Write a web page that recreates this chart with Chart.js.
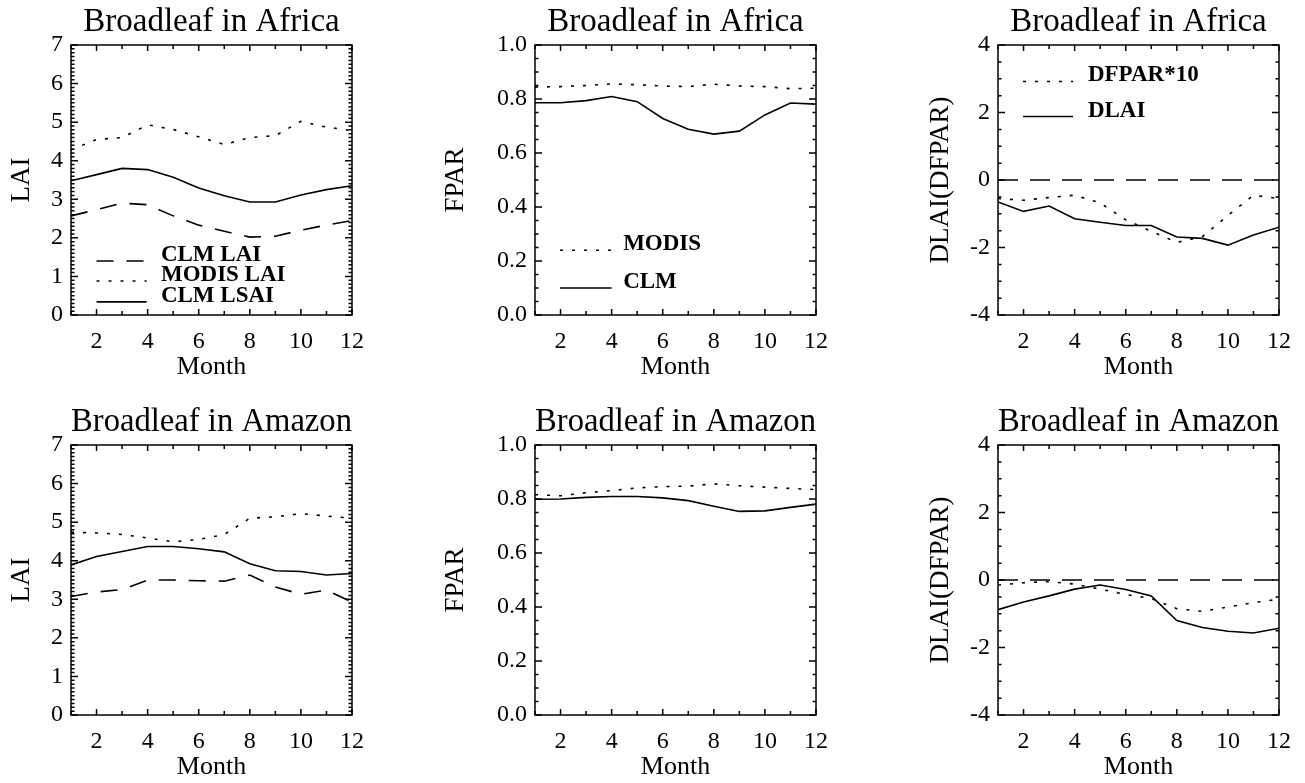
<!DOCTYPE html>
<html>
<head>
<meta charset="utf-8">
<script src="https://cdn.jsdelivr.net/npm/chart.js@4.4.0/dist/chart.umd.min.js"></script>
<style>
  body { margin: 0; background: #fff; overflow: hidden; }
  .panel { position: absolute; width: 435px; height: 383px; }
</style>
</head>
<body>
<div class="panel" style="left:0px;top:0px"><canvas id="c1" width="435" height="383"></canvas></div>
<div class="panel" style="left:435px;top:0px"><canvas id="c2" width="435" height="383"></canvas></div>
<div class="panel" style="left:870px;top:0px"><canvas id="c3" width="435" height="383"></canvas></div>
<div class="panel" style="left:0px;top:400px"><canvas id="c4" width="435" height="383"></canvas></div>
<div class="panel" style="left:435px;top:400px"><canvas id="c5" width="435" height="383"></canvas></div>
<div class="panel" style="left:870px;top:400px"><canvas id="c6" width="435" height="383"></canvas></div>
<script>
const months = [1, 2, 3, 4, 5, 6, 7, 8, 9, 10, 11, 12];
const xTickLabels = [2, 4, 6, 8, 10, 12];
const laiTicks = [0, 1, 2, 3, 4, 5, 6, 7];
const fparTicks = [0, 0.2, 0.4, 0.6, 0.8, 1.0];
const dlaiTicks = [-4, -2, 0, 2, 4];

// Broadleaf in Africa
const africaClmLai   = [2.57, 2.73, 2.90, 2.86, 2.57, 2.33, 2.17, 2.02, 2.04, 2.20, 2.33, 2.45];
const africaModisLai = [4.28, 4.55, 4.60, 4.93, 4.81, 4.62, 4.42, 4.60, 4.65, 5.02, 4.87, 4.78];
const africaClmLsai  = [3.48, 3.64, 3.80, 3.77, 3.57, 3.29, 3.09, 2.93, 2.93, 3.11, 3.25, 3.35];
const africaModisFpar = [0.844, 0.846, 0.850, 0.856, 0.853, 0.848, 0.846, 0.855, 0.848, 0.846, 0.838, 0.840];
const africaClmFpar   = [0.786, 0.786, 0.794, 0.809, 0.790, 0.728, 0.688, 0.670, 0.681, 0.741, 0.785, 0.781];
const africaDfpar10 = [-0.55, -0.60, -0.52, -0.45, -0.68, -1.18, -1.52, -1.85, -1.68, -1.05, -0.45, -0.55];
const africaDlai    = [-0.65, -0.93, -0.77, -1.15, -1.25, -1.35, -1.35, -1.69, -1.73, -1.93, -1.63, -1.40];

// Broadleaf in Amazon
const amazonClmLai   = [3.07, 3.19, 3.25, 3.50, 3.50, 3.48, 3.47, 3.63, 3.32, 3.13, 3.24, 2.93];
const amazonModisLai = [4.74, 4.72, 4.68, 4.59, 4.49, 4.55, 4.68, 5.10, 5.14, 5.22, 5.16, 5.10];
const amazonClmLsai  = [3.89, 4.11, 4.24, 4.37, 4.37, 4.31, 4.23, 3.92, 3.74, 3.72, 3.63, 3.67];
const amazonModisFpar = [0.816, 0.812, 0.823, 0.831, 0.841, 0.846, 0.848, 0.856, 0.849, 0.844, 0.839, 0.835];
const amazonClmFpar   = [0.799, 0.800, 0.806, 0.809, 0.809, 0.804, 0.794, 0.773, 0.754, 0.756, 0.769, 0.781];
const amazonDfpar10 = [-0.15, -0.08, -0.05, -0.12, -0.27, -0.43, -0.55, -0.85, -0.93, -0.80, -0.67, -0.57];
const amazonDlai    = [-0.88, -0.65, -0.47, -0.27, -0.15, -0.28, -0.47, -1.20, -1.41, -1.52, -1.57, -1.43];

const FONT = "'Liberation Serif', 'Times New Roman', serif";
const DASHED = [17, 13];
const DOTTED = [3, 9];
const SOLID = [];

// draws the IDL style box with inward ticks, the zero line and the legend
const frameTicks = {
  id: 'frameTicks',
  afterDatasetsDraw(chart, args, opts) {
    const { ctx, chartArea: a, scales: { x, y } } = chart;
    ctx.save();
    ctx.strokeStyle = '#000';
    ctx.lineWidth = 1.5;
    ctx.setLineDash([]);
    ctx.strokeRect(a.left, a.top, a.right - a.left, a.bottom - a.top);

    ctx.beginPath();
    months.forEach(m => {
      const px = x.getPixelForValue(m);
      const len = m % 2 === 0 ? 6 : 4;
      ctx.moveTo(px, a.bottom); ctx.lineTo(px, a.bottom - len);
      ctx.moveTo(px, a.top); ctx.lineTo(px, a.top + len);
    });
    const n = Math.round((y.max - y.min) / opts.minorY);
    for (let i = 0; i <= n; i++) {
      const v = y.min + i * opts.minorY;
      const major = opts.majorY.some(t => Math.abs(t - v) < 1e-6);
      const len = major ? 7 : 3.5;
      const py = y.getPixelForValue(v);
      ctx.moveTo(a.left, py); ctx.lineTo(a.left + len, py);
      ctx.moveTo(a.right, py); ctx.lineTo(a.right - len, py);
    }
    ctx.stroke();

    if (opts.zero) {
      const py = y.getPixelForValue(0);
      ctx.beginPath();
      ctx.setLineDash([20, 12]);
      ctx.lineWidth = 1.6;
      ctx.moveTo(a.left, py); ctx.lineTo(a.right, py);
      ctx.stroke();
    }

    (opts.legend || []).forEach(item => {
      const py = y.getPixelForValue(item.y);
      ctx.beginPath();
      ctx.setLineDash(item.dash);
      ctx.lineWidth = 1.6;
      ctx.moveTo(x.getPixelForValue(item.x0), py);
      ctx.lineTo(x.getPixelForValue(item.x1), py);
      ctx.stroke();
      ctx.setLineDash([]);
      ctx.fillStyle = '#000';
      ctx.font = 'bold 23px ' + FONT;
      ctx.textBaseline = 'alphabetic';
      ctx.textAlign = 'left';
      ctx.fillText(item.text, x.getPixelForValue(opts.textX), py);
    });
    ctx.restore();
  }
};

function line(values, dash) {
  return {
    data: months.map((m, i) => ({ x: m, y: values[i] })),
    borderColor: '#000',
    borderWidth: 1.6,
    borderDash: dash,
    pointRadius: 0,
    tension: 0,
    fill: false
  };
}

function makeChart(id, cfg) {
  const fmt = cfg.decimals ? v => Number(v).toFixed(cfg.decimals) : v => String(v);
  return new Chart(document.getElementById(id), {
    type: 'line',
    data: { datasets: cfg.datasets },
    options: {
      responsive: false,
      animation: false,
      layout: { padding: { left: 0, right: 435 - cfg.plotRight, top: 0, bottom: 0 } },
      plugins: {
        legend: { display: false },
        tooltip: { enabled: false },
        title: {
          display: true,
          text: cfg.title,
          fullSize: false,
          color: '#000',
          font: { family: FONT, size: 33, weight: 'normal', lineHeight: 1.2 },
          padding: { top: 3, bottom: 2.4 }
        },
        frameTicks: { minorY: cfg.minorY, majorY: cfg.ticks, zero: cfg.zero, legend: cfg.legend, textX: cfg.textX }
      },
      scales: {
        x: {
          type: 'linear',
          min: 1,
          max: 12,
          afterBuildTicks: s => { s.ticks = xTickLabels.map(v => ({ value: v })); },
          afterFit: s => { s.height = 68; },
          grid: { display: false, drawTicks: false },
          border: { display: false },
          ticks: { color: '#000', padding: 12, autoSkip: false, maxRotation: 0, font: { family: FONT, size: 24 } },
          title: { display: true, text: 'Month', color: '#000', padding: { top: 0, bottom: 0 }, font: { family: FONT, size: 26, lineHeight: 1.2 } }
        },
        y: {
          type: 'linear',
          min: cfg.ticks[0],
          max: cfg.ticks[cfg.ticks.length - 1],
          afterBuildTicks: s => { s.ticks = cfg.ticks.map(v => ({ value: v })); },
          afterFit: s => { s.width = cfg.plotLeft; },
          grid: { display: false, drawTicks: false },
          border: { display: false },
          ticks: { color: '#000', padding: 8, autoSkip: false, callback: fmt, font: { family: FONT, size: 24 } },
          title: { display: true, text: cfg.yTitle, color: '#000', padding: { top: cfg.yTitlePad, bottom: 0 }, font: { family: FONT, size: 27, lineHeight: 1.2 } }
        }
      }
    },
    plugins: [frameTicks]
  });
}

const laiLegend = [
  { text: 'CLM LAI', dash: DASHED, x0: 2.0, x1: 3.96, y: 1.40 },
  { text: 'MODIS LAI', dash: DOTTED, x0: 2.0, x1: 3.96, y: 0.88 },
  { text: 'CLM LSAI', dash: SOLID, x0: 2.0, x1: 3.96, y: 0.34 }
];
const fparLegend = [
  { text: 'MODIS', dash: DOTTED, x0: 1.98, x1: 4.0, y: 0.24 },
  { text: 'CLM', dash: SOLID, x0: 1.98, x1: 4.0, y: 0.10 }
];
const dLegend = [
  { text: 'DFPAR*10', dash: DOTTED, x0: 1.98, x1: 3.94, y: 2.92 },
  { text: 'DLAI', dash: SOLID, x0: 1.98, x1: 3.94, y: 1.88 }
];

makeChart('c1', {
  title: 'Broadleaf in Africa', yTitle: 'LAI', ticks: laiTicks, minorY: 0.1,
  plotLeft: 71, plotRight: 352, yTitlePad: 6, legend: laiLegend, textX: 4.52,
  datasets: [line(africaClmLai, DASHED), line(africaModisLai, DOTTED), line(africaClmLsai, SOLID)]
});
makeChart('c2', {
  title: 'Broadleaf in Africa', yTitle: 'FPAR', ticks: fparTicks, minorY: 0.05, decimals: 1,
  plotLeft: 100, plotRight: 381, yTitlePad: 5, legend: fparLegend, textX: 4.45,
  datasets: [line(africaModisFpar, DOTTED), line(africaClmFpar, SOLID)]
});
makeChart('c3', {
  title: 'Broadleaf in Africa', yTitle: 'DLAI(DFPAR)', ticks: dlaiTicks, minorY: 0.5, zero: true,
  plotLeft: 128, plotRight: 409, yTitlePad: 55, legend: dLegend, textX: 4.52,
  datasets: [line(africaDfpar10, DOTTED), line(africaDlai, SOLID)]
});
makeChart('c4', {
  title: 'Broadleaf in Amazon', yTitle: 'LAI', ticks: laiTicks, minorY: 0.1,
  plotLeft: 71, plotRight: 352, yTitlePad: 6,
  datasets: [line(amazonClmLai, DASHED), line(amazonModisLai, DOTTED), line(amazonClmLsai, SOLID)]
});
makeChart('c5', {
  title: 'Broadleaf in Amazon', yTitle: 'FPAR', ticks: fparTicks, minorY: 0.05, decimals: 1,
  plotLeft: 100, plotRight: 381, yTitlePad: 5,
  datasets: [line(amazonModisFpar, DOTTED), line(amazonClmFpar, SOLID)]
});
makeChart('c6', {
  title: 'Broadleaf in Amazon', yTitle: 'DLAI(DFPAR)', ticks: dlaiTicks, minorY: 0.5, zero: true,
  plotLeft: 128, plotRight: 409, yTitlePad: 55,
  datasets: [line(amazonDfpar10, DOTTED), line(amazonDlai, SOLID)]
});
</script>
</body>
</html>
